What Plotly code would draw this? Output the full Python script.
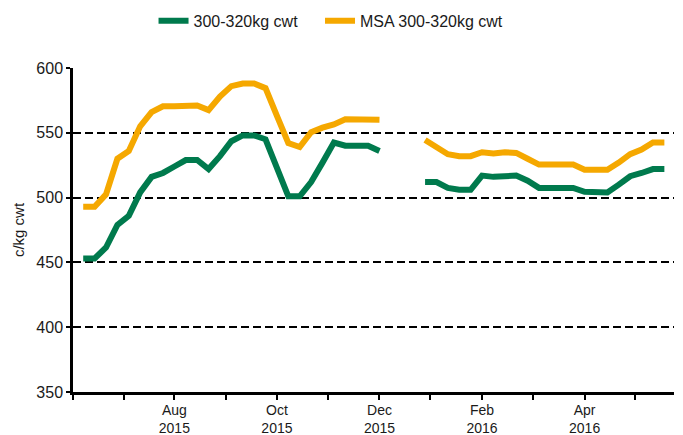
import pandas as pd
import plotly.graph_objects as go

# Weekly observations (52 weeks, Jun 2015 - May 2016)
week_dates = pd.date_range("2015-06-06", periods=52, freq="7D")

cwt_300_320 = [453, 453, 461.5, 479, 486, 504, 516, 519, 524, 529, 529, 522, 532, 543.5,
               548, 548, 545, 523, 501, 501, 512, 527, 542.5, 540, 540, 540, 536,
               None, None, None,
               512, 512, 507.5, 506, 506, 517, 516, 517, 517, 513, 507.5, 507.5, 507.5,
               507.5, 504.5, 504, 504, 510, 516.5, 519, 522, 522]

msa_300_320 = [493, 493, 502.5, 530, 536, 555, 566, 570.5, 570.5, 571, 571, 567.5, 578, 586,
               588, 588, 584.5, 563, 542, 539, 550.5, 554, 556.5, 560.5, 560, 560, 560,
               None, None, None,
               544.5, 538.5, 533.5, 532, 532, 535, 534, 535, 534.5, 530, 525.5, 525.5, 525.5,
               525.5, 521.5, 521.5, 521.5, 527, 533.5, 537, 542.5, 542.5]

series_names = ["300-320kg cwt", "MSA 300-320kg cwt"]
series_colors = ["#007A4D", "#F5A800"]
legend_ids = ["legend", "legend2"]

tick_dates = ["2015-08-01", "2015-10-03", "2015-12-05", "2016-02-06", "2016-04-09"]
tick_labels = ["Aug<br>2015", "Oct<br>2015", "Dec<br>2015", "Feb<br>2016", "Apr<br>2016"]
minor_tick_dates = ["2015-05-30 17:30", "2015-06-30 20:00", "2015-09-01 12:00",
                    "2015-11-03 07:00", "2016-01-05 05:00", "2016-03-08 05:00",
                    "2016-05-10 02:00"]
x_range = ["2015-05-30 17:30", "2016-06-02 22:00"]

y_ticks = [350, 400, 450, 500, 550, 600]

FONT = "Liberation Sans, Arial, sans-serif"

fig = go.Figure()
for name, vals, col, lg in zip(series_names, [cwt_300_320, msa_300_320], series_colors, legend_ids):
    fig.add_trace(go.Scatter(
        x=week_dates, y=vals, name=name, mode="lines",
        line=dict(color=col, width=6), connectgaps=False, legend=lg,
    ))

legend_style = dict(orientation="h", xanchor="left", y=0.97, yanchor="middle",
                    yref="container", font=dict(size=16), itemwidth=30,
                    bgcolor="rgba(0,0,0,0)")

# The page body adds an 8px offset, so the figure is sized to fit the window.
fig.update_layout(
    width=675, height=427,
    margin=dict(l=65, r=9, t=60, b=43, autoexpand=False),
    paper_bgcolor="white", plot_bgcolor="white",
    font=dict(family=FONT, size=15, color="#1a1a1a"),
    showlegend=True,
    legend=dict(x=0.134, **legend_style),
    legend2=dict(x=0.411, **legend_style),
    xaxis=dict(
        type="date", range=x_range, automargin=False,
        tickmode="array", tickvals=tick_dates, ticktext=tick_labels,
        ticks="outside", ticklen=5, tickwidth=1.5, tickcolor="black",
        ticklabelstandoff=-2,
        showline=True, linecolor="black", linewidth=2.5,
        showgrid=False, zeroline=False,
        minor=dict(tickmode="array", tickvals=minor_tick_dates, ticks="outside",
                   ticklen=5, tickwidth=1.5, tickcolor="black", showgrid=False),
        tickfont=dict(size=14),
    ),
    yaxis=dict(
        range=[350, 600], tickmode="array", tickvals=y_ticks, automargin=False,
        ticks="outside", ticklen=4, tickwidth=1.5, tickcolor="black",
        showline=True, linecolor="black", linewidth=2.5,
        showgrid=True, gridcolor="black", gridwidth=2, griddash="8px,4px",
        zeroline=False,
        title=dict(text="c/kg cwt", standoff=9, font=dict(size=15)),
        tickfont=dict(size=16),
    ),
)

fig.write_html("out.html")
